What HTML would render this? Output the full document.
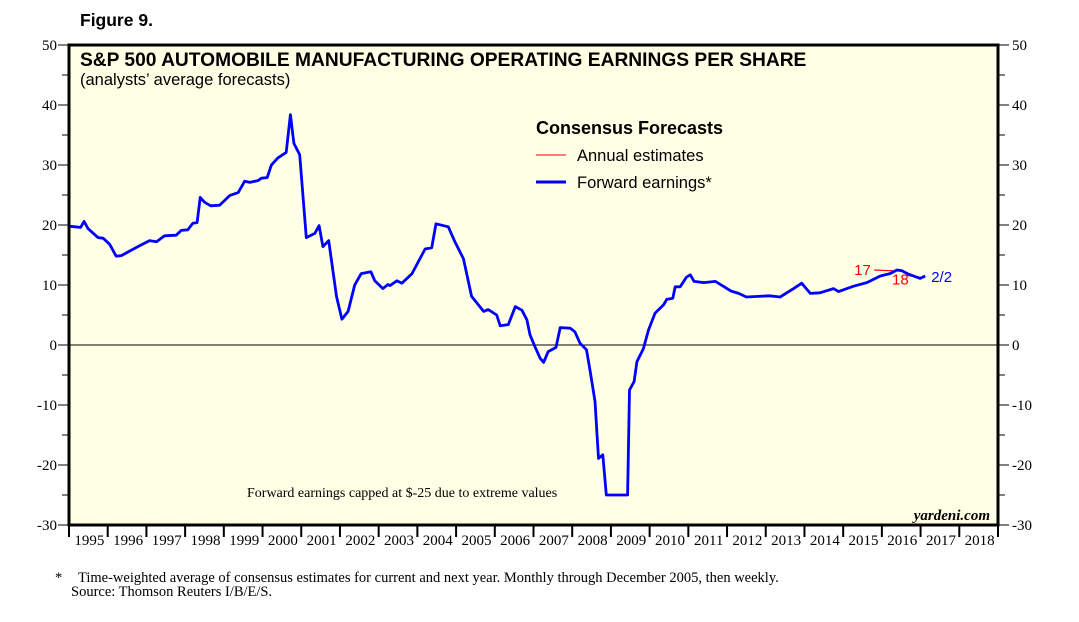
<!DOCTYPE html>
<html><head><meta charset="utf-8"><style>
body{margin:0;width:1079px;height:622px;background:#fff;overflow:hidden;font-family:"Liberation Sans",sans-serif}
svg{display:block}
</style></head><body>
<svg id="chart" width="1079" height="622" xmlns="http://www.w3.org/2000/svg">
<text x="80" y="26" font-family="Liberation Sans" font-weight="bold" font-size="17.5">Figure 9.</text>
<rect x="69" y="45" width="929" height="480" fill="#ffffe6"/>
<g id="axes"></g>
<g id="marks"></g>
<rect x="69" y="45" width="929" height="480" fill="none" stroke="#000" stroke-width="3"/>
<text x="80" y="66" font-weight="bold" font-size="19.2">S&amp;P 500 AUTOMOBILE MANUFACTURING OPERATING EARNINGS PER SHARE</text>
<text x="80" y="85" font-size="16.5">(analysts’ average forecasts)</text>
<text x="536" y="134" font-weight="bold" font-size="18">Consensus Forecasts</text>
<line x1="536" x2="566" y1="155" y2="155" stroke="#e00" stroke-width="1"/>
<text x="577" y="161" font-size="16.5">Annual estimates</text>
<line x1="536" x2="566" y1="182" y2="182" stroke="#00f" stroke-width="3"/>
<text x="577" y="188" font-size="16.5">Forward earnings*</text>
<text x="247" y="497" font-family="Liberation Serif" font-size="14">Forward earnings capped at $-25 due to extreme values</text>
<text x="990" y="520" text-anchor="end" font-family="Liberation Serif" font-style="italic" font-weight="bold" font-size="15">yardeni.com</text>
<text x="55" y="582" font-family="Liberation Serif" font-size="14.5">*</text>
<text x="78" y="582" font-family="Liberation Serif" font-size="14.5">Time-weighted average of consensus estimates for current and next year. Monthly through December 2005, then weekly.</text>
<text x="71" y="596" font-family="Liberation Serif" font-size="14.5">Source: Thomson Reuters I/B/E/S.</text>
</svg>
<script>
const yTicks=[50,40,30,20,10,0,-10,-20,-30];
const yearLabels=[1995,1996,1997,1998,1999,2000,2001,2002,2003,2004,2005,2006,2007,2008,2009,2010,2011,2012,2013,2014,2015,2016,2017,2018];
const fwdDates=[1995.0,1995.15,1995.3,1995.39,1995.49,1995.75,1995.88,1996.05,1996.22,1996.35,1996.61,1996.78,1997.08,1997.26,1997.47,1997.77,1997.9,1998.07,1998.2,1998.31,1998.39,1998.5,1998.66,1998.89,1999.15,1999.37,1999.54,1999.67,1999.88,1999.97,2000.12,2000.23,2000.4,2000.61,2000.72,2000.81,2000.96,2001.13,2001.35,2001.46,2001.56,2001.71,2001.91,2002.05,2002.21,2002.38,2002.55,2002.8,2002.9,2003.11,2003.24,2003.29,2003.47,2003.6,2003.86,2004.2,2004.37,2004.48,2004.8,2004.97,2005.19,2005.4,2005.71,2005.83,2006.05,2006.14,2006.35,2006.53,2006.7,2006.83,2006.91,2007.04,2007.17,2007.26,2007.38,2007.58,2007.69,2007.95,2008.07,2008.2,2008.37,2008.46,2008.59,2008.68,2008.79,2008.88,2009.43,2009.48,2009.6,2009.67,2009.84,2009.97,2010.14,2010.36,2010.44,2010.6,2010.66,2010.79,2010.95,2011.05,2011.15,2011.4,2011.7,2011.9,2012.1,2012.3,2012.5,2012.8,2013.1,2013.37,2013.72,2013.93,2014.15,2014.4,2014.75,2014.88,2015.27,2015.61,2015.96,2016.21,2016.39,2016.51,2016.69,2016.99,2017.12];
const fwdValues=[19.8,19.7,19.6,20.6,19.4,17.9,17.8,16.8,14.8,14.9,15.8,16.4,17.4,17.2,18.2,18.3,19.1,19.2,20.3,20.4,24.6,23.8,23.2,23.3,24.9,25.4,27.3,27.1,27.4,27.8,27.9,30.0,31.2,32.1,38.4,33.6,31.7,17.9,18.6,19.9,16.4,17.4,8.1,4.3,5.6,10.0,11.9,12.2,10.7,9.4,10.1,9.9,10.7,10.3,11.9,16.0,16.2,20.2,19.7,17.2,14.4,8.1,5.6,5.9,5.0,3.2,3.4,6.4,5.8,4.2,1.7,-0.3,-2.2,-2.9,-1.1,-0.4,2.9,2.8,2.2,0.3,-0.8,-4.2,-9.4,-18.9,-18.3,-25,-25,-7.5,-6.1,-2.8,-0.6,2.5,5.3,6.7,7.6,7.8,9.7,9.7,11.3,11.7,10.6,10.4,10.6,9.8,9.0,8.6,8.0,8.1,8.2,8.0,9.4,10.3,8.6,8.7,9.4,8.9,9.8,10.4,11.5,11.9,12.5,12.4,11.8,11.1,11.5];
const annual17Dates=[2015.8,2016.5];
const annual17Values=[12.5,12.3];
const annual18Dates=[2016.65,2017.1];
const annual18Values=[11.6,11.2];

const NS='http://www.w3.org/2000/svg';
const X0=69,X1=998,Y0=345,PX=6;
function xs(t){return X0+(t-1995)*(X1-X0)/24;}
function ys(v){return Y0-v*PX;}
function mk(tag,attrs,parent){const e=document.createElementNS(NS,tag);for(const k in attrs)e.setAttribute(k,attrs[k]);parent.appendChild(e);return e;}
const axes=document.getElementById('axes'),marks=document.getElementById('marks');

for(let v=50;v>=-30;v-=5){
  const major=v%10===0;
  const l=mk('line',{x1:major?58:62,x2:69,y1:ys(v),y2:ys(v),stroke:'#000','stroke-width':1},axes);
  
  
  const r=mk('line',{x1:998,x2:major?1009:1005,y1:ys(v),y2:ys(v),stroke:'#000','stroke-width':1},axes);
  
  
}
yTicks.forEach(v=>{
  const a=mk('text',{x:57,y:ys(v)+5,'text-anchor':'end','font-family':'Liberation Serif','font-size':15},axes);
  a.textContent=v;
  
  
  const b=mk('text',{x:1012,y:ys(v)+5,'font-family':'Liberation Serif','font-size':15},axes);
  b.textContent=v;
  
  
});
const z=mk('line',{x1:X0,x2:X1,y1:ys(0),y2:ys(0),stroke:'#000','stroke-width':1},axes);


yearLabels.forEach(yr=>{
  const t=mk('line',{x1:xs(yr),x2:xs(yr),y1:525,y2:537,stroke:'#000','stroke-width':2},axes);
  
  
  const lb=mk('text',{x:xs(yr+0.5)+1,y:545,'text-anchor':'middle','font-family':'Liberation Serif','font-size':15},axes);
  lb.textContent=yr;
  
  
});
const endT=mk('line',{x1:xs(2019),x2:xs(2019),y1:525,y2:537,stroke:'#000','stroke-width':2},axes);



function pts(d,v){return d.map((t,i)=>xs(t).toFixed(1)+','+ys(v[i]).toFixed(1)).join(' ');}
const a17=mk('polyline',{points:pts(annual17Dates,annual17Values),fill:'none',stroke:'#f00','stroke-width':1.2},marks);


const a18=mk('polyline',{points:pts(annual18Dates,annual18Values),fill:'none',stroke:'#f00','stroke-width':1.2},marks);


const fwd=mk('polyline',{points:pts(fwdDates,fwdValues),fill:'none',stroke:'#00f','stroke-width':2.8,'stroke-linejoin':'round'},marks);


const l17=mk('text',{x:xs(annual17Dates[0])-20,y:ys(annual17Values[0])+5,fill:'#f00','font-size':15},marks);
l17.textContent='17';


const l18=mk('text',{x:xs(annual18Dates[0])-15,y:ys(annual18Values[0])+9,fill:'#f00','font-size':15},marks);
l18.textContent='18';


const ld=mk('text',{x:xs(fwdDates[fwdDates.length-1])+6,y:ys(fwdValues[fwdValues.length-1])+6,fill:'#00f','font-size':15},marks);
ld.textContent='2/2';


</script>
</body></html>
